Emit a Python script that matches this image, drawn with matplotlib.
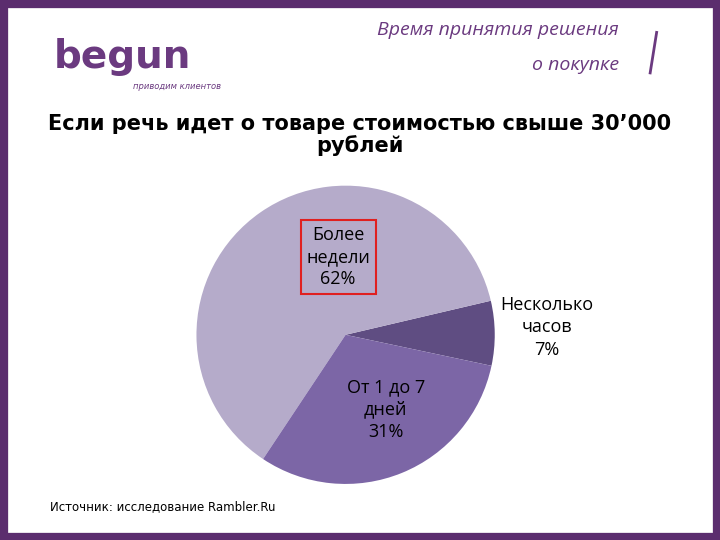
import matplotlib
matplotlib.use("Agg")
import matplotlib.pyplot as plt
from matplotlib.patches import Rectangle

labels = ["Несколько\nчасов\n7%", "Более\nнедели\n62%", "От 1 до 7\nдней\n31%"]
values = [7, 62, 31]
colors = ["#5f4d82", "#b5abca", "#7c66a6"]

fig = plt.figure(figsize=(7.2, 5.4), dpi=100)
fig.patch.set_facecolor("white")
fig.add_artist(Rectangle((0, 0), 1, 1, transform=fig.transFigure, fill=False,
                         edgecolor="#5b2d6e", linewidth=11))

fig.text(0.075, 0.875, "begun", fontsize=28, fontweight="bold", color="#6b3a80",
         family="DejaVu Sans")
fig.text(0.185, 0.835, "приводим клиентов", fontsize=6, style="italic", color="#6b3a80")
fig.text(0.86, 0.945, "Время принятия решения", fontsize=14, style="italic",
         color="#6b3a80", ha="right", va="center", family="Open Sans")
fig.text(0.86, 0.88, "о покупке", fontsize=14, style="italic",
         color="#6b3a80", ha="right", va="center", family="Open Sans")
fig.add_artist(plt.Line2D([0.903, 0.912], [0.865, 0.94], color="#6b3a80", lw=2))

fig.text(0.5, 0.75, "Если речь идет о товаре стоимостью свыше 30’000\nрублей",
         fontsize=15, fontweight="bold", ha="center", va="center",
         family="DejaVu Sans", linespacing=1.1)

ax = fig.add_axes([0.26, 0.09, 0.44, 0.58])
ax.pie(values, colors=colors, startangle=-12, counterclock=True,
       wedgeprops=dict(linewidth=0))
ax.set_aspect("equal")
ax.text(-0.05, 0.52, labels[1], ha="center", va="center", fontsize=13,
        linespacing=1.3, family="Open Sans",
        bbox=dict(facecolor="none", edgecolor="#e02020", lw=1.5, pad=4))
ax.text(0.27, -0.5, labels[2], ha="center", va="center", fontsize=13,
        linespacing=1.3, family="Open Sans")
ax.text(1.35, 0.05, labels[0], ha="center", va="center", fontsize=13,
        linespacing=1.3, family="Open Sans")
ax.set_xlim(-1.05, 1.05)
ax.set_ylim(-1.05, 1.05)

fig.text(0.07, 0.055, "Источник: исследование Rambler.Ru", fontsize=8.5)

fig.savefig("out.png", dpi=100)
